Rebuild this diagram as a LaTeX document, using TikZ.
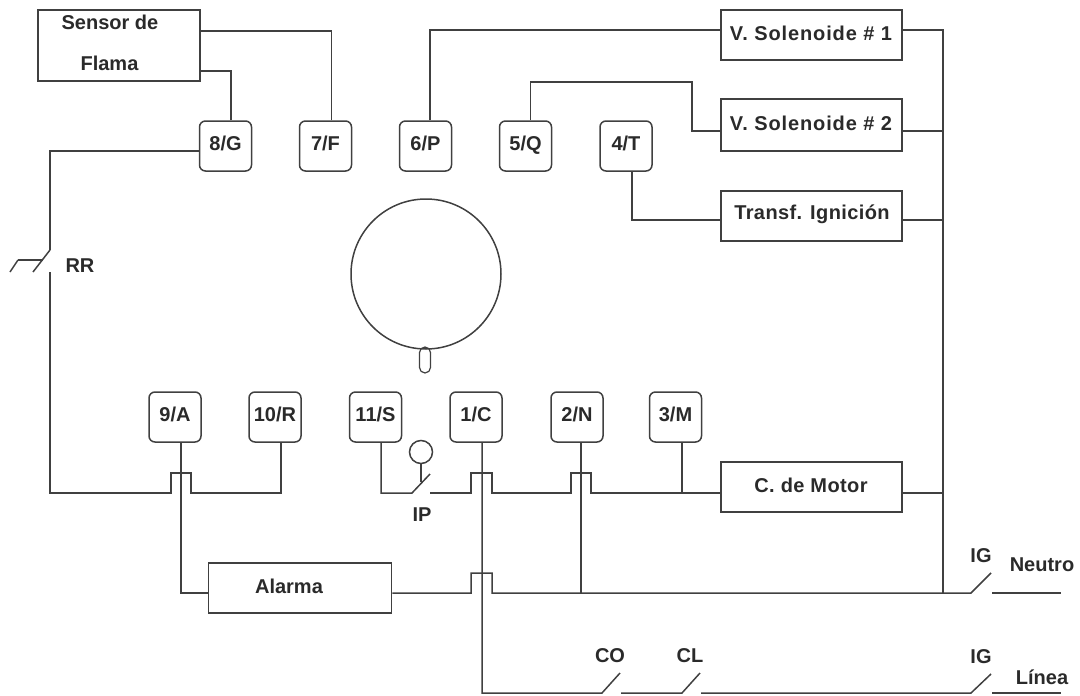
\documentclass[tikz,border=0pt]{standalone}
\usepackage{fontspec}
\setmainfont{Liberation Sans}
\definecolor{ink}{HTML}{404040}
\definecolor{txt}{HTML}{2A2A2A}
\newcommand{\lblfont}{\bfseries\fontsize{20}{22}\selectfont}
\tikzset{
  wire/.style={draw=ink,line width=1.5pt,line join=miter},
  box/.style={draw=ink,line width=1.5pt,fill=white,rectangle,inner sep=0pt},
  term/.style={draw=ink,line width=1.5pt,fill=white,rectangle,rounded corners=6pt,minimum width=52pt,minimum height=50pt,inner sep=0pt,text=txt,font=\lblfont,text height=14pt,text depth=6pt},
  lbl/.style={inner sep=0pt,text=txt,font=\lblfont,text height=14pt,text depth=0pt},
  lblwide/.style={lbl,font=\lblfont\addfontfeatures{LetterSpace=4.4}},
  lblmid/.style={lbl,font=\lblfont\addfontfeatures{LetterSpace=2}}
}
\begin{document}
\begin{tikzpicture}[x=1pt,y=-1pt]
\useasboundingbox (0,0) rectangle (1080,696);
% boxes
\node[box,minimum width=162pt,minimum height=71pt] (sensor) at (119,45.5) {};
\node[lbl] (sensor1) at (110,23) {Sensor de};
\node[lbl] (sensor2) at (109.5,63) {Flama};
\node[box,minimum width=181pt,minimum height=50pt] (sol1) at (811.5,35) {};
\node[lblwide] (sol1t) at (811,33) {V. Solenoide \# 1};
\node[box,minimum width=181pt,minimum height=52pt] (sol2) at (811.5,125) {};
\node[lblwide] (sol2t) at (811,123) {V. Solenoide \# 2};
\node[box,minimum width=181pt,minimum height=50pt] (trf) at (811.5,216) {};
\node[lblmid] (trft) at (812,212) {Transf. Ignición};
\node[box,minimum width=181pt,minimum height=50pt] (motor) at (811.5,487) {};
\node[lblmid] (motort) at (811,485) {C. de Motor};
\node[box,minimum width=183pt,minimum height=50pt] (alarma) at (300,588) {};
\node[lbl] (alarmat) at (289,586) {Alarma};
% terminals
\node[term] (tG) at (225.5,146) {8/G};
\node[term] (tF) at (325.5,146) {7/F};
\node[term] (tP) at (425.5,146) {6/P};
\node[term] (tQ) at (525.5,146) {5/Q};
\node[term] (tT) at (626,146) {4/T};
\node[term] (tA) at (175,417) {9/A};
\node[term] (tR) at (275,417) {10/R};
\node[term] (tS) at (375.5,417) {11/S};
\node[term] (tC) at (476,417) {1/C};
\node[term] (tN) at (577,417) {2/N};
\node[term] (tM) at (675.5,417) {3/M};
% dial
\node[draw=ink,line width=1.5pt,circle,minimum size=150pt,inner sep=0pt] (dial) at (426,274) {};
\node[draw=ink,line width=1.2pt,rectangle,rounded corners=5.5pt,minimum width=11pt,minimum height=26pt,inner sep=0pt] (nib) at (425,360) {};
% coordinates
\coordinate (busTop) at (943,30);
\coordinate (busBot) at (943,593);
\coordinate (rrTop) at (50,250);
\coordinate (rrBot) at (50,272);
\coordinate (rrEnd) at (33,272);
\coordinate (leftC) at (50,493);
\coordinate (bA1) at (171,493); \coordinate (bA2) at (171,473); \coordinate (bA3) at (191,473); \coordinate (bA4) at (191,493);
\coordinate (rJ) at (281,493);
\coordinate (sJ) at (381,493);
\coordinate (ipA) at (412,493); \coordinate (ipB) at (430,474); \coordinate (ipC) at (430,493);
\coordinate (bC1) at (471,493); \coordinate (bC2) at (471,473); \coordinate (bC3) at (492,473); \coordinate (bC4) at (492,493);
\coordinate (bN1) at (571,493); \coordinate (bN2) at (571,473); \coordinate (bN3) at (591,473); \coordinate (bN4) at (591,493);
\coordinate (mJ) at (682,493);
\coordinate (aJ) at (181,593);
\coordinate (bL1) at (471,593); \coordinate (bL2) at (471,573); \coordinate (bL3) at (492,573); \coordinate (bL4) at (492,593);
\coordinate (nJ) at (581,593);
\coordinate (ig1a) at (971,593); \coordinate (ig1b) at (991,573); \coordinate (ig1c) at (992,593); \coordinate (ig1d) at (1061,593);
\coordinate (cBot) at (482,693);
\coordinate (coA) at (602,693); \coordinate (coB) at (620,673); \coordinate (coC) at (621,693);
\coordinate (clA) at (682,693); \coordinate (clB) at (700,673); \coordinate (clC) at (701,693);
\coordinate (ig2a) at (971,693); \coordinate (ig2b) at (991,674); \coordinate (ig2c) at (992,693); \coordinate (ig2d) at (1061,693);
\coordinate (q1) at (530.5,82); \coordinate (q2) at (692,82);
% top connectors
\draw[wire] ([xshift=6pt]tF.north) |- (sensor.east |- 0,31);
\draw[wire] ([xshift=5.5pt]tG.north) |- (sensor.east |- 0,71);
\draw[wire] (tG.west |- 0,151) -- (50,151) -- (rrTop);
\draw[wire] ([xshift=4.5pt]tP.north) |- (sol1.west |- 0,30);
\draw[wire] ([xshift=5pt]tQ.north) -- (q1) -- (q2) |- (sol2.west |- 0,131);
\draw[wire] ([xshift=6pt]tT.south) |- (trf.west |- 0,220);
% bus
\draw[wire] (sol1.east |- busTop) -- (busTop) -- (busBot);
\draw[wire] (sol2.east |- 0,131) -- (943,131);
\draw[wire] (trf.east |- 0,220) -- (943,220);
\draw[wire] (motor.east |- 0,493) -- (943,493);
% RR switch
\draw[wire] (rrTop) -- (rrEnd);
\draw[wire] (18,260) -- (43,260);
\draw[wire] (18,260) -- (10,272);
\draw[wire] (rrBot) -- (leftC) -- (bA1) -- (bA2) -- (bA3) -- (bA4) -- (rJ) -- ([xshift=6pt]tR.south);
% IP
\draw[wire] ([xshift=5.5pt]tS.south) -- (sJ) -- (ipA) -- (ipB);
\node[draw=ink,line width=1.5pt,circle,minimum size=23pt,inner sep=0pt] (ipc) at (421,452) {};
\draw[wire] (ipc.south) -- (421,482);
\draw[wire] (ipC) -- (bC1) -- (bC2) -- (bC3) -- (bC4) -- (bN1) -- (bN2) -- (bN3) -- (bN4) -- (motor.west |- 0,493);
\draw[wire] ([xshift=6.5pt]tM.south) -- (mJ);
% verticals
\draw[wire] ([xshift=6pt]tA.south) -- (aJ) -- (alarma.west |- aJ);
\draw[wire] ([xshift=6pt]tC.south) -- (cBot) -- (coA) -- (coB);
\draw[wire] ([xshift=4pt]tN.south) -- (nJ);
% alarm line
\draw[wire] (alarma.east |- bL1) -- (bL1) -- (bL2) -- (bL3) -- (bL4) -- (ig1a) -- (ig1b);
\draw[wire] (ig1c) -- (ig1d);
\draw[wire] (coC) -- (clA) -- (clB);
\draw[wire] (clC) -- (ig2a) -- (ig2b);
\draw[wire] (ig2c) -- (ig2d);
% labels
\node[lbl] (rr) at (80,265) {RR};
\node[lbl] (ip) at (422,514) {IP};
\node[lbl] (ig1) at (981,555) {IG};
\node[lbl] (neutro) at (1042,564) {Neutro};
\node[lbl] (co) at (610,655) {CO};
\node[lbl] (cl) at (690,655) {CL};
\node[lbl] (ig2) at (981,656) {IG};
\node[lbl] (linea) at (1042,677) {Línea};
\end{tikzpicture}
\end{document}
